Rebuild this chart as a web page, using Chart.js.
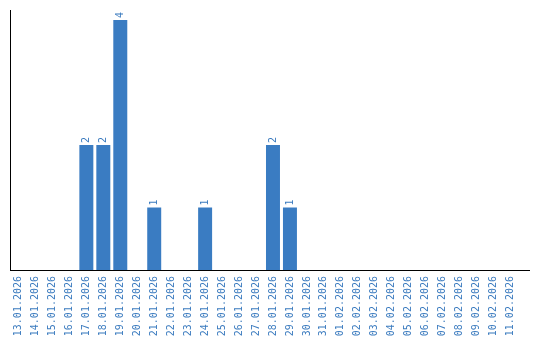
<!DOCTYPE html>
<html>
<head>
<meta charset="utf-8">
<script src="https://cdn.jsdelivr.net/npm/chart.js@4/dist/chart.umd.min.js"></script>
<style>
  html, body { margin: 0; padding: 0; background: #fff; }
  #wrap { width: 540px; height: 340px; }
</style>
</head>
<body>
<div id="wrap"><canvas id="chart" width="540" height="340"></canvas></div>
<script>
// Data
const days = ['13.01.2026','14.01.2026','15.01.2026','16.01.2026','17.01.2026','18.01.2026',
  '19.01.2026','20.01.2026','21.01.2026','22.01.2026','23.01.2026','24.01.2026','25.01.2026',
  '26.01.2026','27.01.2026','28.01.2026','29.01.2026','30.01.2026','31.01.2026','01.02.2026',
  '02.02.2026','03.02.2026','04.02.2026','05.02.2026','06.02.2026','07.02.2026','08.02.2026',
  '09.02.2026','10.02.2026','11.02.2026'];
const counts = [0,0,0,0,2,2,4,0,1,0,0,1,0,0,0,2,1,0,0,0,0,0,0,0,0,0,0,0,0,0];

const blue = '#3a7cc2';
const labelBlue = '#3b7bbf';
const mono = '"DejaVu Sans Mono", "Liberation Mono", monospace';

// value labels above bars, rotated
const valueLabels = {
  id: 'valueLabels',
  afterDatasetsDraw(chart) {
    const ctx = chart.ctx;
    const meta = chart.getDatasetMeta(0);
    ctx.save();
    ctx.fillStyle = labelBlue;
    ctx.font = '10px ' + mono;
    ctx.textAlign = 'left';
    ctx.textBaseline = 'middle';
    meta.data.forEach((bar, i) => {
      if (!counts[i]) return;
      ctx.save();
      ctx.translate(bar.x, bar.y - 2);
      ctx.rotate(-Math.PI / 2);
      ctx.fillText(String(counts[i]), 0, 0);
      ctx.restore();
    });
    ctx.restore();
  }
};

// x axis line runs a bit past the last category
const axisExtend = {
  id: 'axisExtend',
  afterDraw(chart) {
    const a = chart.chartArea;
    const ctx = chart.ctx;
    ctx.save();
    ctx.strokeStyle = '#000';
    ctx.lineWidth = 1;
    ctx.beginPath();
    ctx.moveTo(a.right - 1, a.bottom + 0.5);
    ctx.lineTo(a.right + 11, a.bottom + 0.5);
    ctx.stroke();
    ctx.restore();
  }
};

new Chart(document.getElementById('chart').getContext('2d'), {
  type: 'bar',
  data: {
    labels: days,
    datasets: [{
      data: counts,
      backgroundColor: blue,
      borderWidth: 0,
      barPercentage: 0.824,
      categoryPercentage: 1
    }]
  },
  options: {
    responsive: false,
    animation: false,
    layout: { padding: { left: 0, right: 21, top: 10, bottom: 0 } },
    plugins: { legend: { display: false }, tooltip: { enabled: false } },
    scales: {
      x: {
        grid: { display: false, drawTicks: false },
        border: { color: '#000', width: 1 },
        ticks: {
          color: labelBlue,
          font: { family: mono, size: 10 },
          minRotation: 90,
          maxRotation: 90,
          autoSkip: false,
          padding: 6
        },
        afterFit(scale) { scale.height = 70; }
      },
      y: {
        min: 0,
        max: 4.16,
        grid: { display: false, drawTicks: false },
        border: { color: '#000', width: 1 },
        ticks: { display: false },
        afterFit(scale) { scale.width = 10; }
      }
    }
  },
  plugins: [valueLabels, axisExtend]
});
</script>
</body>
</html>
